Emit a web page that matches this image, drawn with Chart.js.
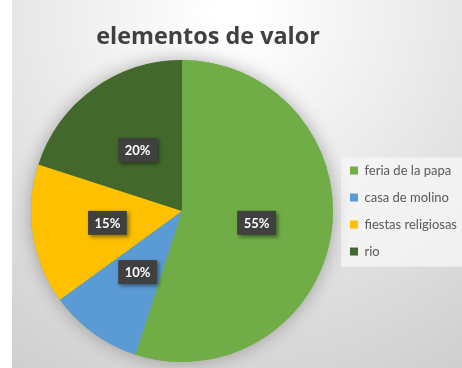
<!DOCTYPE html>
<html>
<head>
<meta charset="utf-8">
<script src="https://cdn.jsdelivr.net/npm/chart.js@4.4.0/dist/chart.umd.min.js"></script>
<style>
  html, body { margin: 0; padding: 0; background: #fff; }
  #wrap { width: 462px; height: 368px; }
</style>
</head>
<body>
<div id="wrap"><canvas id="pieValor"></canvas></div>
<script>
// datos del gráfico
const categorias = ['feria de la papa', 'casa de molino', 'fiestas religiosas', 'rio'];
const porcentajes = [55, 10, 15, 20];
const colores = ['#70AD47', '#5B9BD5', '#FFC000', '#43682B'];
const titulo = 'elementos de valor';

//=======================================================================
// fondo degradado + caja clara de la leyenda + sombra del pastel ========
//=======================================================================
const fondoPlugin = {
    id: 'fondo',
    afterLayout(chart) {
        // el título va centrado un poco a la izquierda del lienzo
        const tb = chart.titleBlock;
        const half = (tb.right - tb.left) / 2;
        tb.left = 208 - half;
        tb.right = 208 + half;
    },
    beforeDraw(chart) {
        const ctx = chart.ctx;
        const w = chart.width, h = chart.height;
        ctx.save();
        ctx.fillStyle = '#ffffff';
        ctx.fillRect(0, 0, w, h);
        let g = ctx.createRadialGradient(235, 10, 20, 235, 10, 420);
        g.addColorStop(0, '#ffffff');
        g.addColorStop(1, '#cfcfcf');
        ctx.fillStyle = g;
        ctx.fillRect(12, 0, w - 12, h);

        let hb = chart.legend.legendHitBoxes;
        if (hb && hb.length) {
            let first = hb[0], last = hb[hb.length - 1];
            let top = first.top - 6.5;
            ctx.fillStyle = 'rgba(246,246,246,0.8)';
            ctx.fillRect(first.left - 9, top, w - first.left + 9, last.top + last.height + 8.5 - top);
        }
        ctx.restore();
    },
    beforeDatasetsDraw(chart) {
        const ctx = chart.ctx;
        let arc = chart.getDatasetMeta(0).data[0];
        if (!arc) return;
        ctx.save();
        ctx.shadowColor = 'rgba(0,0,0,0.3)';
        ctx.shadowBlur = 18;
        ctx.fillStyle = colores[0];
        ctx.beginPath();
        ctx.arc(arc.x, arc.y, arc.outerRadius, 0, Math.PI * 2);
        ctx.fill();
        ctx.restore();
    },
    afterDatasetsDraw(chart) {
        // etiquetas de porcentaje en cajas oscuras
        const ctx = chart.ctx;
        chart.getDatasetMeta(0).data.forEach((arc, i) => {
            let p = arc.tooltipPosition();
            let txt = porcentajes[i] + '%';
            ctx.save();
            ctx.font = 'bold 13px Lato';
            let tw = ctx.measureText(txt).width;
            let bw = tw + 13, bh = 24;
            ctx.shadowColor = 'rgba(0,0,0,0.45)';
            ctx.shadowBlur = 4;
            ctx.shadowOffsetX = 2;
            ctx.shadowOffsetY = 2;
            ctx.fillStyle = '#404040';
            ctx.fillRect(p.x - bw / 2, p.y - bh / 2, bw, bh);
            ctx.shadowColor = 'transparent';
            ctx.fillStyle = '#ffffff';
            ctx.textAlign = 'center';
            ctx.textBaseline = 'middle';
            ctx.fillText(txt, p.x, p.y + 1);
            ctx.restore();
        });
    }
};

function showPieValor() {
    let ctx = document.getElementById('pieValor');

    let data = {
        labels: categorias,
        datasets: [{
            data: porcentajes,
            backgroundColor: colores,
            borderWidth: 0,
        }]
    };

    let config = {
        type: 'pie',
        data: data,
        options: {
            responsive: true,
            maintainAspectRatio: false,
            animation: false,
            layout: { padding: { left: 28, right: -5, top: 0, bottom: 6 } },
            plugins: {
                title: {
                    display: true,
                    text: titulo,
                    color: '#404040',
                    font: { family: 'Open Sans', size: 23.4, weight: 'bold' },
                    padding: { top: 23, bottom: 9 }
                },
                legend: {
                    position: 'right',
                    fullSize: false,
                    labels: {
                        boxWidth: 8,
                        boxHeight: 8,
                        padding: 14,
                        color: '#595959',
                        font: { family: 'Lato', size: 13 }
                    }
                },
                tooltip: { enabled: false }
            }
        },
        plugins: [fondoPlugin]
    };

    new Chart(ctx, config);
}

showPieValor();
</script>
</body>
</html>
